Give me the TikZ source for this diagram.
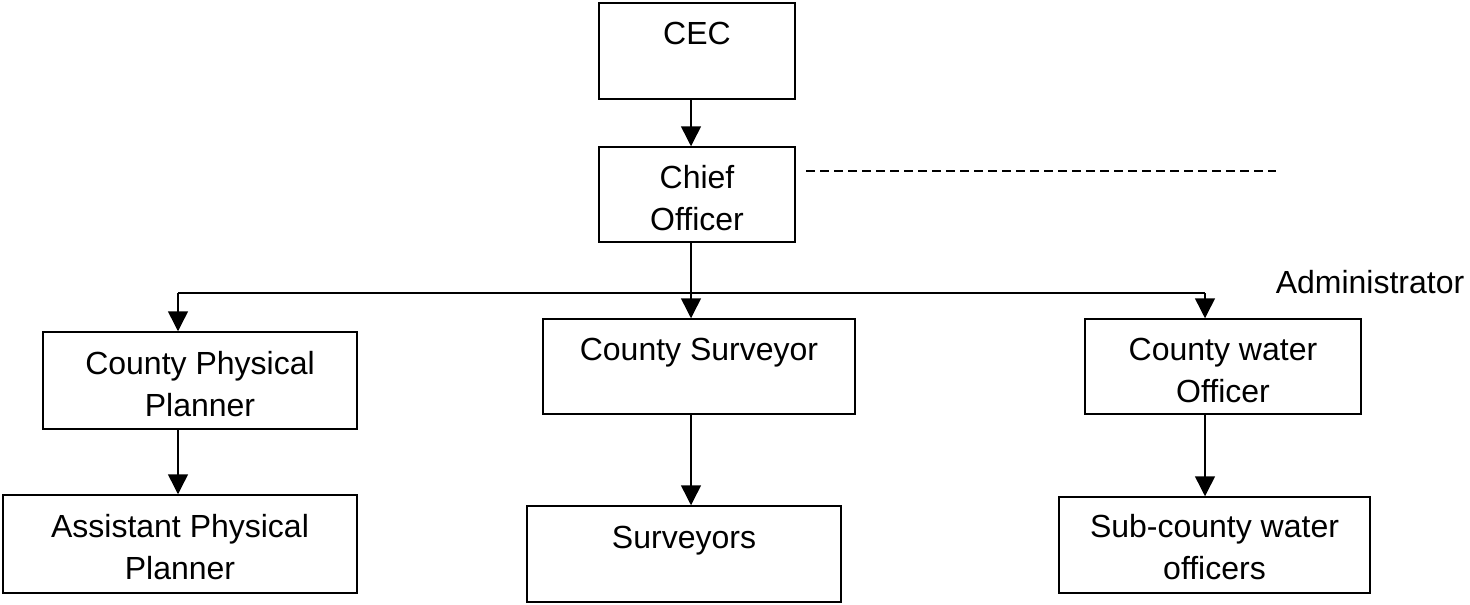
\documentclass[tikz,border=0pt]{standalone}
\usepackage{fontspec}
\setmainfont{Liberation Sans}
\usetikzlibrary{arrows.meta}
\newcommand{\lst}{\rule[-9pt]{0pt}{33pt}}
\begin{document}
\begin{tikzpicture}[x=1pt,y=-1pt,
  box/.style={draw, line width=1.5pt, inner sep=0pt, rectangle},
  txt/.style={inner sep=0pt, align=center, font=\fontsize{32}{42}\selectfont, anchor=north},
  arr/.style={line width=1.5pt, -{Triangle[length=20pt,width=20pt]}},
  ln/.style={line width=1.5pt},
  dsh/.style={line width=1.2pt, dash pattern=on 9pt off 5pt}]
\useasboundingbox (0,0) rectangle (1470,605);
% boxes
\node[box, minimum width=196pt, minimum height=96pt] (cec) at (697,51) {};
\node[box, minimum width=196pt, minimum height=95pt] (chief) at (697,194.5) {};
\node[box, minimum width=314pt, minimum height=97pt] (cpp) at (200,380.5) {};
\node[box, minimum width=312pt, minimum height=95pt] (cs) at (699,366.5) {};
\node[box, minimum width=276pt, minimum height=95pt] (cwo) at (1223,366.5) {};
\node[box, minimum width=354pt, minimum height=98pt] (apv) at (180,544) {};
\node[box, minimum width=314pt, minimum height=96pt] (sv) at (684,554) {};
\node[box, minimum width=311pt, minimum height=96pt] (scw) at (1214.5,545) {};
% texts
\node[txt] (cect) at (697,20) {\lst CEC};
\node[txt] (chieft) at (697,164) {\lst Chief\\\lst Officer};
\node[txt] (cppt) at (200,350) {\lst County Physical\\\lst Planner};
\node[txt] (cst) at (699,336) {\lst County Surveyor};
\node[txt] (cwot) at (1223,336) {\lst County water\\\lst Officer};
\node[txt] (apvt) at (180,513) {\lst Assistant Physical\\\lst Planner};
\node[txt] (svt) at (684,524) {\lst Surveyors};
\node[txt] (scwt) at (1214.5,513) {\lst Sub-county water\\\lst officers};
\node[txt] (admin) at (1370,269) {\lst Administrator};
% connectors
\coordinate (j) at (691,293);
\coordinate (jl) at (178,293);
\coordinate (jr) at (1205,293);
\coordinate (d1) at (806,171);
\coordinate (d2) at (1276,171);
\draw[arr] (cec.south -| j) -- (chief.north -| j);
\draw[ln] (chief.south -| j) -- (j);
\draw[ln] (jl) -- (jr);
\draw[arr] (j) -- (cs.north -| j);
\draw[arr] (jl) -- (cpp.north -| jl);
\draw[arr] (jr) -- (cwo.north -| jr);
\draw[arr] (cpp.south -| jl) -- (apv.north -| jl);
\draw[arr] (cs.south -| j) -- (sv.north -| j);
\draw[arr] (cwo.south -| jr) -- (scw.north -| jr);
\draw[dsh] (d1) -- (d2);
\end{tikzpicture}
\end{document}
